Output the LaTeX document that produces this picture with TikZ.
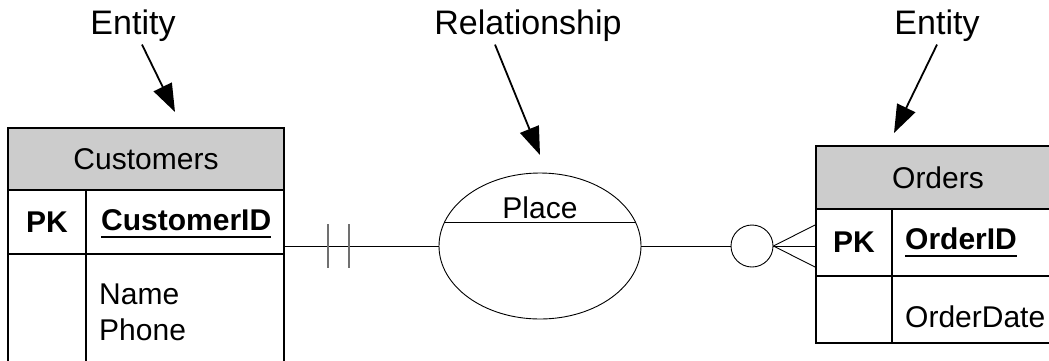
\documentclass[tikz,border=0pt]{standalone}
\usepackage{fontspec}
\setmainfont{Liberation Sans}
\usetikzlibrary{arrows.meta,shapes.geometric,calc}
\definecolor{erdHead}{HTML}{CCCCCC}
\definecolor{erdBar}{HTML}{707070}
\newcommand{\keyline}[1]{\sbox0{#1}\rlap{\rule[-8pt]{\wd0}{2.5pt}}\usebox0}

\begin{document}
\begin{tikzpicture}[x=1pt,y=-1pt,
    font=\fontsize{30}{36}\selectfont,
    hdr/.style={draw,fill=erdHead,line width=2pt,inner sep=0pt},
    cell/.style={draw,line width=2pt,inner sep=0pt},
    lbl/.style={font=\fontsize{34}{40}\selectfont,anchor=base},
    txt/.style={anchor=base west,inner sep=0pt},
    rel/.style={ellipse,draw,line width=0.9pt,minimum width=202pt,minimum height=146pt,inner sep=0pt},
    opt/.style={circle,draw,line width=0.9pt,minimum size=42pt,inner sep=0pt},
    conn/.style={line width=0.9pt},
    bar/.style={erdBar,line width=1.5pt},
    arr/.style={-{Triangle[length=28pt,width=20pt]},line width=1.8pt}]

  \useasboundingbox (0,0) rectangle (1049,360);
  \clip (0,0) rectangle (1049,360);

  \node[hdr,minimum width=276pt,minimum height=62pt] (custHead) at (146,159) {Customers};
  \node[cell,minimum width=78pt,minimum height=64pt,font=\fontsize{30}{36}\selectfont\bfseries] (custKey) at (47,222) {PK};
  \node[cell,minimum width=198pt,minimum height=64pt] (custId) at (185,222) {};
  \node[cell,minimum width=78pt,minimum height=132pt] (custAttrKey) at (47,320) {};
  \node[cell,minimum width=198pt,minimum height=132pt] (custAttr) at (185,320) {};
  \node[txt,font=\fontsize{30}{36}\selectfont\bfseries] (custIdTxt) at (101,230) {\keyline{CustomerID}};
  \node[txt] (custName) at (99,304) {Name};
  \node[txt] (custPhone) at (99,340) {Phone};

  \node[hdr,minimum width=244pt,minimum height=63pt] (ordHead) at (938,177.5) {Orders};
  \node[cell,minimum width=76pt,minimum height=67pt,font=\fontsize{30}{36}\selectfont\bfseries] (ordKey) at (854,242.5) {PK};
  \node[cell,minimum width=168pt,minimum height=67pt] (ordId) at (976,242.5) {};
  \node[cell,minimum width=76pt,minimum height=67pt] (ordAttrKey) at (854,309.5) {};
  \node[cell,minimum width=168pt,minimum height=67pt] (ordAttr) at (976,309.5) {};
  \node[txt,font=\fontsize{30}{36}\selectfont\bfseries] (ordIdTxt) at (905,249) {\keyline{OrderID}};
  \node[txt] (ordDate) at (905,327) {OrderDate};

  \node[rel] (place) at (540,246) {};
  \node[anchor=base,inner sep=0pt] (placeLbl) at (540,218) {Place};
  \draw[conn] (place.166) -- (place.14);
  \node[opt] (zeroMany) at (752,246) {};

  \coordinate (oneEnd) at (place.west -| custId.east);
  \draw[conn] (place.west) -- (oneEnd);
  \draw[bar] ([xshift=43pt,yshift=22pt]oneEnd) -- ++(0,44);
  \draw[bar] ([xshift=64pt,yshift=22pt]oneEnd) -- ++(0,44);
  \draw[conn] (place.east) -- (zeroMany.west);
  \draw[conn] (zeroMany.east) -- ([yshift=21pt]zeroMany.east -| ordKey.west);
  \draw[conn] (zeroMany.east) -- (zeroMany.east -| ordKey.west);
  \draw[conn] (zeroMany.east) -- ([yshift=-21pt]zeroMany.east -| ordKey.west);

  \node[lbl] (lblCust) at (133,34) {Entity};
  \node[lbl] (lblRel) at (528,34) {Relationship};
  \node[lbl] (lblOrd) at (937,34) {Entity};
  \coordinate (tipCust) at (175,112);
  \coordinate (tipRel) at (540,155);
  \coordinate (tipOrd) at (894,133);
  \draw[arr] ([xshift=9pt]lblCust.south) -- (tipCust);
  \draw[arr] ([xshift=-33pt]lblRel.south) -- (tipRel);
  \draw[arr] (lblOrd.south) -- (tipOrd);
\end{tikzpicture}
\end{document}
